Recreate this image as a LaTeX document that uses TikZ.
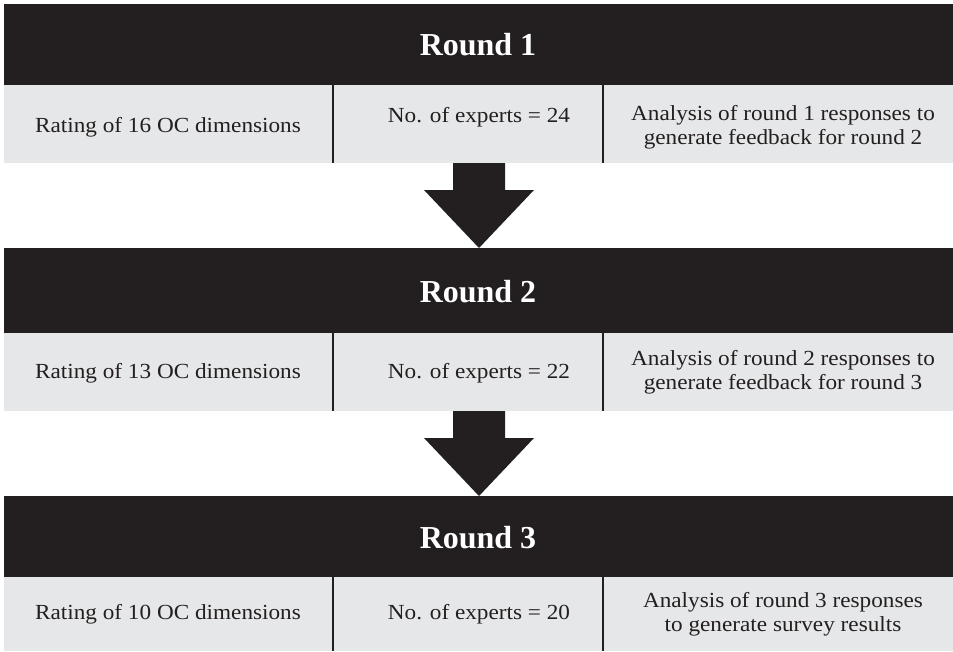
\documentclass[tikz,border=0pt]{standalone}
\usepackage{fontspec}
\setmainfont{Liberation Serif}
\newfontfamily\cellfont[FakeStretch=1.08]{Liberation Serif}
\definecolor{hdr}{HTML}{231F20}
\definecolor{rowc}{HTML}{E6E7E8}
\tikzset{
  hdrbox/.style={fill=hdr, draw=none},
  rowbox/.style={fill=rowc, draw=none},
  title/.style={text=white, font=\fontsize{32}{36}\selectfont\bfseries, inner sep=0pt},
  cell/.style={text=hdr, font=\cellfont\fontsize{21.5}{24.5}\selectfont, align=center, inner sep=0pt},
  divider/.style={draw=hdr, line width=1.2pt},
  blockarrow/.style={fill=hdr, draw=none}
}
\begin{document}
\begin{tikzpicture}[x=1pt,y=-1pt]
\useasboundingbox (0,0) rectangle (953,651);
% Round 1
\fill[hdrbox] (4,4) rectangle (953,85);
\fill[rowbox] (4,85) rectangle (953,163);
\draw[divider] (333,85) -- (333,163);
\draw[divider] (603,85) -- (603,163);
\node[title] (t1) at (478,45) {Round 1};
\node[cell] (a1) at (168,127) {Rating of 16 OC dimensions};
\node[cell] (b1) at (479,117) {No. of experts = 24};
\node[cell] (c1) at (783,127) {Analysis of round 1 responses to\\generate feedback for round 2};
% Arrow 1
\coordinate (e1) at (479,248);
\fill[blockarrow] (453,163) -- (505,163) -- (505,190) -- (534,190) -- (e1) -- (424,190) -- (453,190) -- cycle;
% Round 2
\fill[hdrbox] (4,248) rectangle (953,333);
\fill[rowbox] (4,333) rectangle (953,411);
\draw[divider] (333,333) -- (333,411);
\draw[divider] (603,333) -- (603,411);
\node[title] (t2) at (478,292) {Round 2};
\node[cell] (a2) at (168,373) {Rating of 13 OC dimensions};
\node[cell] (b2) at (479,373) {No. of experts = 22};
\node[cell] (c2) at (783,372) {Analysis of round 2 responses to\\generate feedback for round 3};
% Arrow 2
\coordinate (e2) at (479,496);
\fill[blockarrow] (453,411) -- (505,411) -- (505,438) -- (534,438) -- (e2) -- (424,438) -- (453,438) -- cycle;
% Round 3
\fill[hdrbox] (4,496) rectangle (953,577);
\fill[rowbox] (4,577) rectangle (953,651);
\draw[divider] (333,577) -- (333,651);
\draw[divider] (603,577) -- (603,651);
\node[title] (t3) at (478,538) {Round 3};
\node[cell] (a3) at (168,614) {Rating of 10 OC dimensions};
\node[cell] (b3) at (479,614) {No. of experts = 20};
\node[cell] (c3) at (783,614) {Analysis of round 3 responses\\to generate survey results};
\end{tikzpicture}
\end{document}
